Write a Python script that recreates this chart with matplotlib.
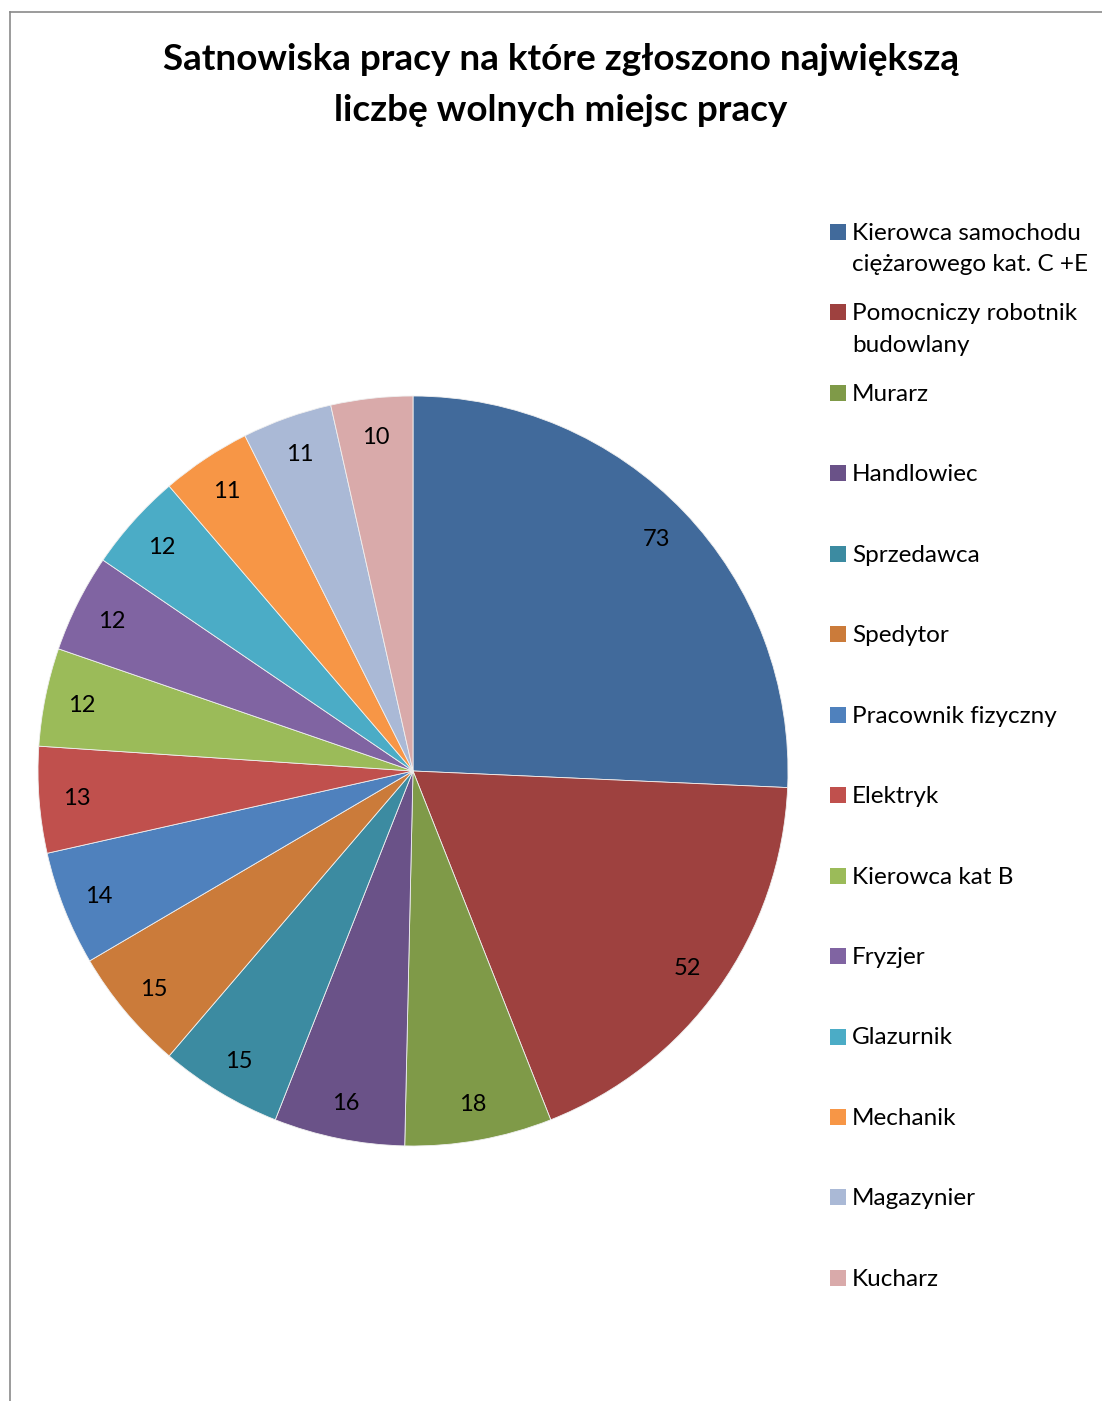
import matplotlib
matplotlib.use("Agg")
import matplotlib.pyplot as plt
from matplotlib.lines import Line2D
from matplotlib.patches import Rectangle

plt.rcParams['font.family'] = ['Lato', 'DejaVu Sans']

# dane z wykresu
zawody = ["Kierowca samochodu\nciężarowego kat. C +E", "Pomocniczy robotnik\nbudowlany",
          "Murarz", "Handlowiec", "Sprzedawca", "Spedytor", "Pracownik fizyczny",
          "Elektryk", "Kierowca kat B", "Fryzjer", "Glazurnik", "Mechanik",
          "Magazynier", "Kucharz"]
miejsca = [73, 52, 18, 16, 15, 15, 14, 13, 12, 12, 12, 11, 11, 10]
kolory = ["#416A9B", "#9E413F", "#7F9A48", "#6A5288", "#3C8BA1", "#CB7B3A",
          "#4F81BD", "#C0504D", "#9BBB59", "#8064A2", "#4BACC6", "#F79646",
          "#AAB9D6", "#D9AAAA"]
tytul = "Satnowiska pracy na które zgłoszono największą\nliczbę wolnych miejsc pracy"

W, H = 1102, 1401
fig = plt.figure(figsize=(W / 100, H / 100), dpi=100)

# kolo: srodek (413, 771), promien 375 px
cx, cy, r = 413, 771, 375
ax = fig.add_axes([(cx - r) / W, (H - cy - r) / H, 2 * r / W, 2 * r / H])
wedges, texts = ax.pie(miejsca, colors=kolory, startangle=90, counterclock=False,
                       labels=[str(v) for v in miejsca], labeldistance=0.9,
                       wedgeprops=dict(edgecolor="#f0f0f0", linewidth=0.6),
                       textprops=dict(fontsize=17, color="black"))
for t in texts:
    t.set_ha("center")
    t.set_va("center")
    x, y = t.get_position()
    t.set_position((x, y - 0.004))
ax.set_xlim(-1, 1)
ax.set_ylim(-1, 1)
ax.set_aspect("equal")
ax.axis("off")

fig.text(561 / W, 1 - 85 / H, tytul, ha="center", va="center", fontsize=26.6,
         fontweight="bold", linespacing=1.66)

# legenda
for i, (naz, kol) in enumerate(zip(zawody, kolory)):
    y = 232 + i * 80.45
    fig.patches.append(Rectangle((830 / W, 1 - (y + 8) / H), 16 / W, 16 / H,
                                 transform=fig.transFigure, facecolor=kol, edgecolor="none"))
    fig.text(852 / W, 1 - (y - 9) / H, naz, ha="left", va="top", fontsize=17.5,
             linespacing=1.6)

# ramka
fig.add_artist(Line2D([10 / W, 1], [1 - 12 / H, 1 - 12 / H], color="#8a8a8a", lw=1.2))
fig.add_artist(Line2D([10 / W, 10 / W], [0, 1 - 12 / H], color="#8a8a8a", lw=1.2))

fig.savefig("out.png", dpi=100)
